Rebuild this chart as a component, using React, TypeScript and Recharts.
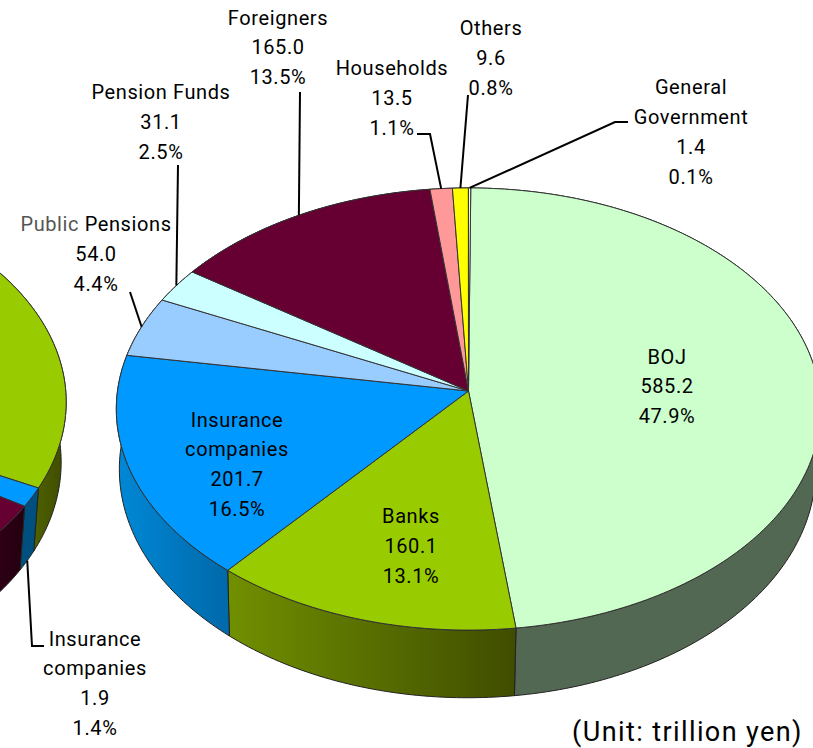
import React from 'react';
import { PieChart, Pie } from 'recharts';

// main pie
const names = ['BOJ', 'Banks', 'Insurance\ncompanies', 'Public Pensions', 'Pension Funds', 'Foreigners', 'Households', 'Others', 'General\nGovernment'];
const values = [585.2, 160.1, 201.7, 54.0, 31.1, 165.0, 13.5, 9.6, 1.4];
const topColors = ['#CCFFCC', '#99CC00', '#0099FF', '#99CCFF', '#CCFFFF', '#660033', '#FF9999', '#FFFF00', '#FFFFCC'];
const wallColors = ['#536853', 'url(#bankWall)', 'url(#insWall)', '#5c7a99', '#7a9999', '#3d001f', '#995c5c', '#999900', '#999980'];

// left pie, cut off by the page edge (only the slices that show are readable)
const leftNames = ['Banks', 'Insurance\ncompanies', 'Foreigners'];
const leftValues = [44.0, 1.9, 89.8];
const leftTopColors = ['#99CC00', '#0099FF', '#660033'];
const leftWallColors = ['url(#leftBankWall)', '#00507F', 'url(#leftForWall)'];

const FONT = 'Roboto, "Noto Sans", sans-serif';

// perspective of the pie top, and of its lower rim
const RADIUS = 351;
const SQUASH = 219.6 / 351;
const TILT = 0.0815;
const DEPTH_Y = 59.6;
const LOWER_DX = -1;
const LOWER_RX = 347;
const LOWER_RY = 227;

const project = (cx: number, cy: number, rx: number, ry: number, angle: number) => {
  const a = (angle * Math.PI) / 180;
  const u = Math.cos(a);
  const v = -Math.sin(a);
  const w = 1 - TILT * v;
  return [cx + (rx * u) / w, cy + (ry * v) / w];
};

const arc = (cx: number, cy: number, rx: number, ry: number, from: number, to: number) => {
  const steps = Math.max(2, Math.ceil(Math.abs(to - from)));
  const pts: string[] = [];
  for (let i = 0; i <= steps; i++) {
    const p = project(cx, cy, rx, ry, from + ((to - from) * i) / steps);
    pts.push(`${p[0].toFixed(2)} ${p[1].toFixed(2)}`);
  }
  return pts;
};

const TopShape = (props: any) => {
  const { cx, cy, startAngle, endAngle, fill } = props;
  const rim = arc(cx, cy, RADIUS, RADIUS * SQUASH, startAngle, endAngle);
  return <path d={`M ${cx} ${cy} L ${rim.join(' L ')} Z`} fill={fill} stroke="#333" strokeWidth={1} strokeLinejoin="round" />;
};

const WallShape = (props: any) => {
  const { cx, cy, startAngle, endAngle, fill } = props;
  const upper = arc(cx, cy, RADIUS, RADIUS * SQUASH, startAngle, endAngle);
  const lower = arc(cx + LOWER_DX, cy + DEPTH_Y, LOWER_RX, LOWER_RY, endAngle, startAngle);
  return <path d={`M ${upper.join(' L ')} L ${lower.join(' L ')} Z`} fill={fill} stroke="#222" strokeWidth={1} strokeLinejoin="round" />;
};

// label centres (x, first line y, line step) and the elbow points of the leader lines
const labelLayout: any[] = [
  { x: 667, y: 356.5, step: 29.8 },
  { x: 411, y: 515.5, step: 30 },
  { x: 237, y: 419.5, step: 29.7 },
  { x: 96, y: 223.5, step: 30, leader: [[130, 292]] },
  { x: 161, y: 91.5, step: 30, leader: [[178, 165]] },
  { x: 278, y: 17.5, step: 29.5, leader: [[300, 92]] },
  { x: 392, y: 67.5, step: 30, leader: [[417, 134], [430, 134]] },
  { x: 491, y: 27.5, step: 30, leader: [[468, 95]] },
  { x: 691, y: 86.5, step: 30, leader: [[628, 122], [615, 122]] },
];
const leftLabelLayout: any[] = [
  null,
  { x: 95, y: 638.5, step: 29.7, lowerRim: true, leader: [[44, 646], [32, 646]] },
  null,
];

const renderLabel = (layout: any[], lineNames: string[], vals: number[]) => (props: any) => {
  const { index, midAngle, cx, cy } = props;
  const spot = layout[index];
  if (!spot) return null;
  const total = vals.reduce((s, v) => s + v, 0);
  const lines = [...lineNames[index].split('\n'), vals[index].toFixed(1), `${((vals[index] / total) * 100).toFixed(1)}%`];
  const end = spot.lowerRim
    ? project(cx + LOWER_DX, cy + DEPTH_Y, LOWER_RX, LOWER_RY, midAngle)
    : project(cx, cy, RADIUS, RADIUS * SQUASH, midAngle);
  return (
    <g key={`label-${index}`}>
      {spot.leader && (
        <polyline points={[...spot.leader, end].map((p: number[]) => p.join(',')).join(' ')} fill="none" stroke="#000" strokeWidth={2} />
      )}
      {lines.map((line, i) => (
        <text key={i} x={spot.x} y={spot.y + i * spot.step} textAnchor="middle" dominantBaseline="central" fontFamily={FONT} fontSize={20} letterSpacing={0.6} fill="#000">
          {line.startsWith('Public ') ? (
            <>
              <tspan fill="#555">Public</tspan>
              {line.slice(6)}
            </>
          ) : (
            line
          )}
        </text>
      ))}
    </g>
  );
};

const table = (vals: number[], labels: string[], fills: string[]) =>
  vals.map((value, i) => ({ name: labels[i], value, fill: fills[i] }));

export default function App() {
  const pieProps = {
    dataKey: 'value',
    startAngle: 89.6,
    endAngle: -270.4,
    outerRadius: RADIUS,
    paddingAngle: 0,
    isAnimationActive: false,
  };
  return (
    <div style={{ position: 'absolute', left: 0, top: 0, width: 813, height: 748, overflow: 'hidden' }}>
      <PieChart width={813} height={748} margin={{ top: 0, right: 0, bottom: 0, left: 0 }}>
        <defs>
          <linearGradient id="bankWall" gradientUnits="userSpaceOnUse" x1="230" y1="0" x2="515" y2="0">
            <stop offset="0" stopColor="#708F00" />
            <stop offset="1" stopColor="#404D00" />
          </linearGradient>
          <linearGradient id="insWall" gradientUnits="userSpaceOnUse" x1="118" y1="0" x2="232" y2="0">
            <stop offset="0" stopColor="#0088D6" />
            <stop offset="1" stopColor="#0068A8" />
          </linearGradient>
          <linearGradient id="leftBankWall" gradientUnits="userSpaceOnUse" x1="33" y1="0" x2="67" y2="0">
            <stop offset="0" stopColor="#506200" />
            <stop offset="1" stopColor="#3D4A00" />
          </linearGradient>
          <linearGradient id="leftForWall" gradientUnits="userSpaceOnUse" x1="-30" y1="0" x2="24" y2="0">
            <stop offset="0" stopColor="#3A001D" />
            <stop offset="1" stopColor="#24000F" />
          </linearGradient>
        </defs>
        <Pie {...pieProps} data={table(leftValues, leftNames, leftWallColors)} cx={-286} cy={384} shape={WallShape} label={false} />
        <Pie
          {...pieProps}
          data={table(leftValues, leftNames, leftTopColors)}
          cx={-286}
          cy={384}
          shape={TopShape}
          labelLine={false}
          label={renderLabel(leftLabelLayout, leftNames, leftValues)}
        />
        <Pie {...pieProps} data={table(values, names, wallColors)} cx={468.5} cy={391} shape={WallShape} label={false} />
        <Pie
          {...pieProps}
          data={table(values, names, topColors)}
          cx={468.5}
          cy={391}
          shape={TopShape}
          labelLine={false}
          label={renderLabel(labelLayout, names, values)}
        />
        <text x={687.5} y={732} textAnchor="middle" dominantBaseline="central" fontFamily={FONT} fontSize={27} letterSpacing={1.4} fill="#000">
          (Unit: trillion yen)
        </text>
      </PieChart>
    </div>
  );
}
